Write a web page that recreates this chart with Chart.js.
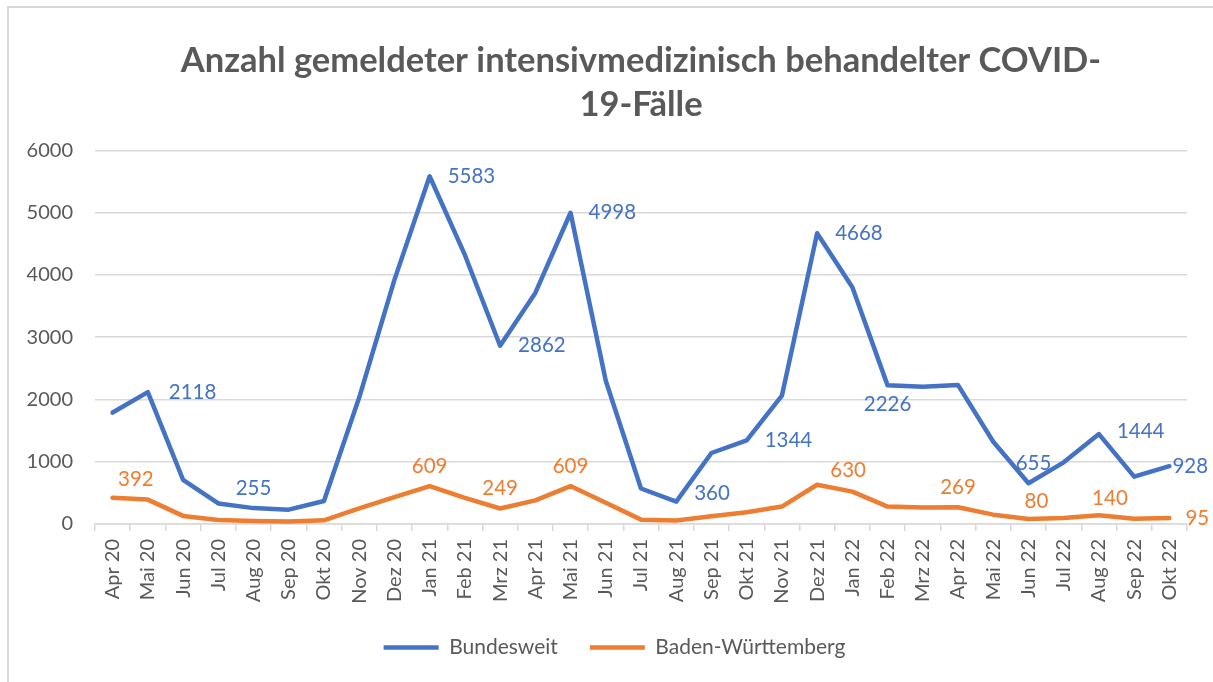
<!DOCTYPE html>
<html>
<head>
<meta charset="utf-8">
<script src="https://cdn.jsdelivr.net/npm/chart.js@4.4.0/dist/chart.umd.min.js"></script>
<style>
  html, body { margin: 0; padding: 0; background: #fff; }
  #wrap { position: relative; width: 1213px; height: 682px; overflow: hidden; }
  #frame { position: absolute; left: 7px; top: 6px; width: 1300px; height: 800px;
           border-left: 2px solid #d9d9d9; border-top: 2px solid #d9d9d9; }
  #myChart { position: absolute; left: 0; top: 0; }
</style>
</head>
<body>
<div id="wrap">
  <div id="frame"></div>
  <canvas id="myChart" width="1213" height="682"></canvas>
</div>
<script>
const months = [
  "Apr 20", "Mai 20", "Jun 20", "Jul 20", "Aug 20", "Sep 20", "Okt 20", "Nov 20", "Dez 20",
  "Jan 21", "Feb 21", "Mrz 21", "Apr 21", "Mai 21", "Jun 21", "Jul 21", "Aug 21", "Sep 21",
  "Okt 21", "Nov 21", "Dez 21", "Jan 22", "Feb 22", "Mrz 22", "Apr 22", "Mai 22", "Jun 22",
  "Jul 22", "Aug 22", "Sep 22", "Okt 22",
];

const bundesweit = [
  1790, 2118, 710, 330, 255, 230, 370, 2030, 3920,
  5583, 4320, 2862, 3710, 4998, 2300, 570, 360, 1140,
  1344, 2060, 4668, 3800, 2226, 2205, 2230, 1320, 655,
  990, 1444, 760, 928,
];

const badenWuerttemberg = [
  420, 392, 130, 65, 50, 40, 60, 250, 430,
  609, 420, 249, 380, 609, 340, 70, 55, 125,
  190, 280, 630, 520, 280, 265, 269, 150, 80,
  95, 140, 85, 95,
];

const yTicks = [0, 1000, 2000, 3000, 4000, 5000, 6000];

// which points carry a value label, and where it sits
const blueLabels = [
  { i: 1, pos: "right", dx: 21 }, { i: 4, pos: "above" }, { i: 9, pos: "right" },
  { i: 11, pos: "right" }, { i: 13, pos: "right" }, { i: 16, pos: "right", dy: -8 },
  { i: 18, pos: "right" }, { i: 20, pos: "right" }, { i: 22, pos: "below" },
  { i: 26, pos: "above", dx: 5 }, { i: 28, pos: "right", dy: -3 }, { i: 30, pos: "right", dx: 3 },
];
const orangeLabels = [
  { i: 1, pos: "above", dx: -12 }, { i: 9, pos: "above" }, { i: 11, pos: "above" },
  { i: 13, pos: "above" }, { i: 20, pos: "above", dx: 31, dy: 6 }, { i: 24, pos: "above" },
  { i: 26, pos: "above", dx: 8, dy: 2 }, { i: 28, pos: "above", dx: 11, dy: 3 },
  { i: 30, pos: "right", dx: 16 },
];

const FONT = "Lato, 'Open Sans', sans-serif";
const GREY = "#595959";

const valueLabels = {
  id: "valueLabels",
  afterLayout(chart) {
    // legend sits a bit right of the canvas centre in the original
    chart.legend.left += 17;
    chart.legend.right += 17;
  },
  afterDatasetsDraw(chart) {
    const ctx = chart.ctx;
    ctx.save();
    ctx.font = "20.5px " + FONT;
    chart.data.datasets.forEach((ds, d) => {
      const meta = chart.getDatasetMeta(d);
      (ds.labelSpec || []).forEach((s) => {
        const pt = meta.data[s.i];
        let x = pt.x, y = pt.y;
        ctx.fillStyle = ds.borderColor;
        ctx.textBaseline = "middle";
        if (s.pos === "right") {
          ctx.textAlign = "left";
          x += s.dx !== undefined ? s.dx : 18;
        } else if (s.pos === "above") {
          ctx.textAlign = "center";
          y -= 20;
          x += s.dx || 0;
        } else {
          ctx.textAlign = "center";
          y += 19;
          x += s.dx || 0;
        }
        y += s.dy || 0;
        ctx.fillText(String(ds.data[s.i]), x, y);
      });
    });
    ctx.restore();
  },
};

const data = {
  labels: months,
  datasets: [
    {
      label: "Bundesweit",
      data: bundesweit,
      borderColor: "#4472C4",
      backgroundColor: "#4472C4",
      borderWidth: 4.5,
      labelSpec: blueLabels,
    },
    {
      label: "Baden-Württemberg",
      data: badenWuerttemberg,
      borderColor: "#ED7D31",
      backgroundColor: "#ED7D31",
      borderWidth: 4.5,
      labelSpec: orangeLabels,
    },
  ],
};

// config
const config = {
  type: "line",
  data,
  plugins: [valueLabels],
  options: {
    responsive: false,
    animation: false,
    layout: { padding: { left: 8, right: 26, top: 0, bottom: 14 } },
    elements: {
      line: { tension: 0, borderJoinStyle: "round", borderCapStyle: "round" },
      point: { radius: 0, hoverRadius: 0 },
    },
    plugins: {
      title: {
        display: true,
        fullSize: false,
        text: ["Anzahl gemeldeter intensivmedizinisch behandelter COVID-", "19-Fälle"],
        color: GREY,
        font: { family: FONT, size: 34.5, weight: "bold", lineHeight: 1.28 },
        padding: { top: 39, bottom: 23 },
      },
      legend: {
        position: "bottom",
        labels: {
          usePointStyle: true,
          pointStyle: "line",
          pointStyleWidth: 55,
          boxWidth: 55,
          boxHeight: 5,
          color: GREY,
          font: { family: FONT, size: 21 },
          padding: 32,
        },
      },
      tooltip: { enabled: false },
    },
    scales: {
      x: {
        offset: true,
        grid: {
          offset: true,
          drawOnChartArea: false,
          drawTicks: true,
          tickLength: 7,
          color: "#d9d9d9",
          lineWidth: 1.5,
        },
        border: { display: true, color: "#d9d9d9", width: 1.5 },
        ticks: {
          autoSkip: false,
          minRotation: 90,
          maxRotation: 90,
          color: GREY,
          font: { family: FONT, size: 20 },
          padding: 8,
        },
        afterFit(scale) { scale.height = 81; },
      },
      y: {
        min: 0,
        max: 6000,
        afterBuildTicks(scale) { scale.ticks = yTicks.map((v) => ({ value: v })); },
        grid: { color: "#d9d9d9", lineWidth: 1.5, drawTicks: false },
        border: { display: false },
        ticks: {
          color: GREY,
          font: { family: FONT, size: 20 },
          padding: 22,
          callback: (v) => String(v),
        },
        afterFit(scale) { scale.width = 87; },
      },
    },
  },
};

// render init block
const myChart = new Chart(document.getElementById("myChart"), config);
</script>
</body>
</html>
